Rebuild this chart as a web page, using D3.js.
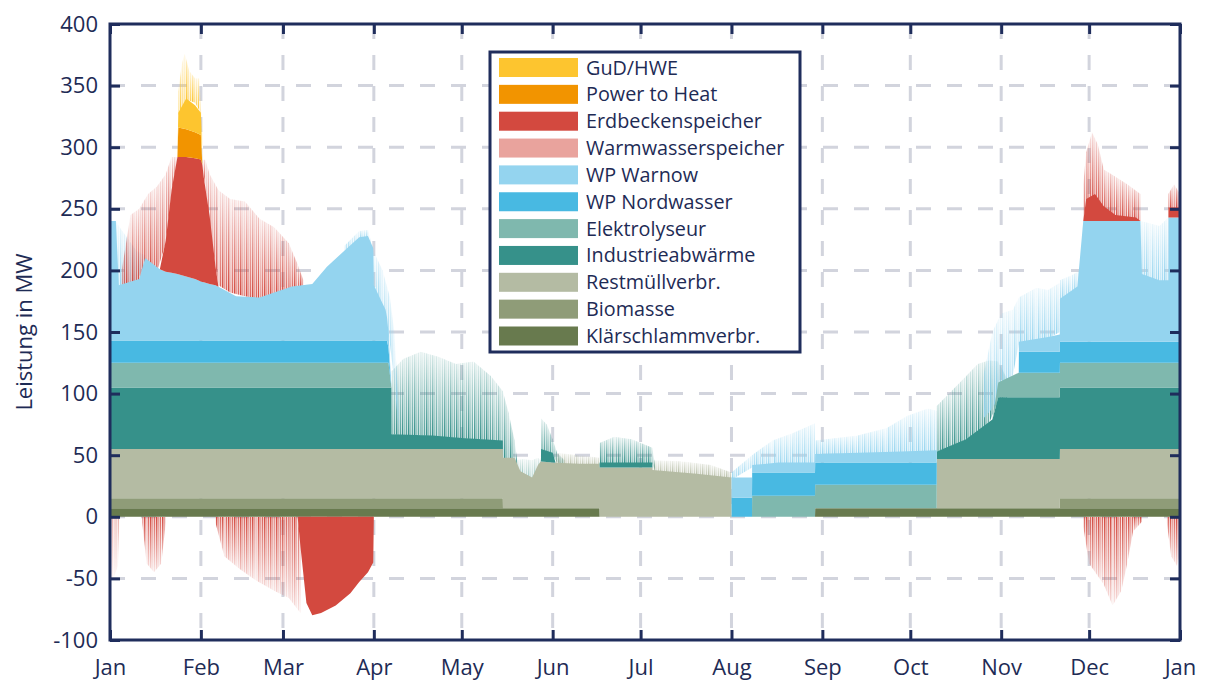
<!DOCTYPE html>
<html lang="de">
<head>
<meta charset="UTF-8">
<title>Wärmeerzeugung</title>
<script src="https://d3js.org/d3.v7.min.js"></script>
<style>
  body { margin: 0; background: #fff; }
  text { font-family: "Open Sans", sans-serif; fill: #1e2b55; }
</style>
</head>
<body>
<svg width="1220" height="682"></svg>
<script>
// stack order, bottom -> top
const keys = ["klaer", "bio", "rest", "indu", "elek", "nord", "warnow", "warm", "erdb", "pth", "gud"];
const labels = {
  gud: "GuD/HWE", pth: "Power to Heat", erdb: "Erdbeckenspeicher", warm: "Warmwasserspeicher",
  warnow: "WP Warnow", nord: "WP Nordwasser", elek: "Elektrolyseur", indu: "Industrieabwärme",
  rest: "Restmüllverbr.", bio: "Biomasse", klaer: "Klärschlammverbr."
};
const colors = {
  gud: "#fdc52f", pth: "#f29400", erdb: "#d3493f", warm: "#e9a39d", warnow: "#94d4ef",
  nord: "#48b9e2", elek: "#7fb8ae", indu: "#36918a", rest: "#b4bba3", bio: "#8f9c78", klaer: "#687a4e"
};

// base load per source, [day of year, MW]
const klaerschlamm = [[0,7],[167,7],[167.05,0],[240.5,0],[240.55,7],[365,7]];
const biomasse = [[0,8],[134,8],[134.05,0],[324,0],[324.05,8],[365,8]];
const restmuell = [[0,40],[134,40],[134.05,41],[138,41],[140,30],[144,25],[146,35],[147,38],[151,37],[160,36],[167,36],
  [167.05,40],[185,40],[185.05,38],[200,35],[212,32],[212.05,0],[282,0],[282.05,40],[365,40]];
const industrie = [[0,50],[96,50],[96.05,12],[110,11],[120,9],[134,7],[134.05,0],[147,0],[147.05,10],[151,8],[152,0],
  [167,0],[167.05,4],[185,4],[185.05,0],[282,0],[282.05,6],[292,16],[301,32],[303,50],[365,50]];
const elektrolyseur = [[0,20],[95,20],[96,0],[219,0],[219.05,17],[240.5,17],[240.55,19],[282,19],[282.05,0],[301,0],[303,12],[310,20],[365,20]];
const nordwasser = [[0,18],[94.5,18],[96,0],[212,0],[212.05,15.5],[219,15.5],[219.05,19],[240.5,19],[240.55,18],[282,18],[282.05,0],
  [310,0],[310.05,17],[365,17]];
const warnow = [[0,97],[2,97],[3,45],[10,50],[12,67],[17,58],[19,56],[21,55],[23,54],[26,52],[29,50],[31,48],[34,46],[36,45],
  [43,36],[51,35],[62,44],[69,46],[74,60],[85,84],[88,85],[89.8,75],[90,45],[94,25],[96,0],[212,0],[212.05,16.5],[219,16.5],
  [219.05,6],[228,8],[240.5,8],[240.55,7],[270,9],[282,10],[282.05,0],[310,0],[310.05,8],[320,12],[324,14],[324.05,35],[330,45],
  [332,98],[351.5,98],[352,55],[358,50],[361,50],[361.05,101],[365,101]];
const warmwasser = [[0,0],[365,0]];
const erdbecken = [[0,0],[17,0],[19,25],[21,67],[23,95],[26,97],[29,98],[31,99],[31.5,95],[32,85],[34,55],[36,15],[37,0],
  [332,0],[333,18],[336,22],[339,12],[343,5],[350,3],[351.5,0],[361,0],[361.05,8],[365,8]];
const powerToHeat = [[0,0],[23,0],[23.3,24],[31,20],[31.5,0],[365,0]];
const gud = [[0,0],[23,0],[23.3,12],[26,25],[29,22],[31,18],[31.5,0],[365,0]];
// storage discharge below zero
const erdbeckenNeg = [[64,0],[65,-25],[67,-70],[69,-80],[72,-78],[77,-72],[82,-62],[85,-53],[88,-45],[89.8,-37],[90,0]];

// short peaks (hourly spikes), [day, from MW, to MW]
const spikesIndustrie = [
  [[96,67,118],[100,66,128],[106,66,134],[112,65,130],[118,64,124],[124,63,126],[130,62,114],[134,47,102],[136,47,84],[138,46,62],[139,40,44]],
  [[147,52,80],[149,52,75],[151,50,63],[152.5,44,52],[155,43,46]],
  [[167,43,60],[172,43,65],[178,43,63],[185,43,56],[186,37,40]],
  [[282,53,90],[287,56,102],[292,63,114],[296,68,124],[300,77,127],[303,94,126],[306,96,112]]
];
const spikesRestmuell = [
  [[152,42,52],[160,41,50],[167,40,48]],
  [[185,37,46],[195,35,45],[205,33,42],[212,31,36]]
];
const spikesElektrolyseur = [
  [[138,40,46],[141,30,47],[144,24,46],[146,33,48],[147,37,46]]
];
const spikesWarnow = [
  [[2,185,240],[3,186,236],[6,188,226],[9,191,216],[12,205,212]],
  [[80,212,220],[85,225,232],[88,226,233],[90,188,215],[93,165,200],[95.5,140,178],[97,110,150],[98.5,70,90]],
  [[212,30,36],[219,40,50],[226,42,62],[233,42,68],[240.5,42,76]],
  [[240.5,50,62],[255,50,66],[265,51,72],[272,52,82],[279,52,88],[282,52,86]],
  [[298,80,115],[301,88,150],[304,100,165],[308,115,168],[310,140,178],[316,142,186],[320,145,184],[324,150,190]],
  [[324,176,192],[328,180,196],[331,185,200],[332,238,240]],
  [[351.5,195,240],[355,192,238],[358,190,236],[361,190,243]]
];
const spikesWarmwasser = [
  [[0,0,-50],[1.5,0,-48],[2.7,0,-40],[3.2,0,-3]]
];
const spikesErdbecken = [
  [[4,186,200],[7,189,245],[10,192,250],[13,205,262],[16,199,268],[19,222,278],[21,263,292],[23,290,292]],
  [[31.5,284,290],[32.5,270,290],[34,235,278],[37,188,265],[41,182,258],[46,179,256],[51,177,242],[56,179,235],[61,184,222],[64,186,205],[66,188,192]],
  [[332,238,270],[333,256,296],[335,260,312],[337,258,302],[339,250,282],[343,244,276],[347,242,270],[351.5,240,262]],
  [[361,250,262],[363,250,270],[365,250,262]],
  [[11,0,-5],[12.5,0,-38],[15,0,-45],[17.5,0,-38],[19,0,-5]],
  [[36,0,-5],[39,0,-32],[44,0,-42],[50,0,-52],[56,0,-60],[61,0,-66],[64,0,-75],[65,-20,-78]],
  [[332,0,-8],[334,0,-38],[339,0,-55],[342,0,-72],[345,0,-60],[347,0,-38],[349,0,-12],[352,0,-4]],
  [[360.5,0,-5],[362,0,-32],[364,0,-40],[365,0,-30]]
];
const spikesGud = [
  [[23.3,326,345],[24.5,332,368],[25.5,336,376],[27,338,362],[29,336,356],[30.5,330,356],[31.5,300,310]]
];

const yTicks = [-100, -50, 0, 50, 100, 150, 200, 250, 300, 350, 400];

const seriesData = {klaer: klaerschlamm, bio: biomasse, rest: restmuell, indu: industrie, elek: elektrolyseur,
  nord: nordwasser, warnow: warnow, warm: warmwasser, erdb: erdbecken, pth: powerToHeat, gud: gud};

const svg = d3.select("svg");
const plotLeft = 110, plotRight = 1180, plotTop = 24, plotBottom = 640;

const t0 = Date.UTC(2019, 0, 1);
const toDate = d => new Date(t0 + d * 864e5);
const x = d3.scaleUtc().domain([toDate(0), toDate(365)]).range([plotLeft, plotRight]);
const y = d3.scaleLinear().domain([-100, 400]).range([plotBottom, plotTop]);

// value of a breakpoint series on a given day (straight segments between breakpoints)
function valueAt(pts, d) {
  if (d <= pts[0][0]) return pts[0][1];
  for (let i = 1; i < pts.length; i++) {
    if (d <= pts[i][0]) {
      const [d0, v0] = pts[i - 1], [d1, v1] = pts[i];
      return d1 === d0 ? v1 : v0 + (v1 - v0) * (d - d0) / (d1 - d0);
    }
  }
  return pts[pts.length - 1][1];
}

const allDays = Array.from(new Set(keys.flatMap(k => seriesData[k].map(p => p[0])))).sort((a, b) => a - b);
const table = allDays.map(d => {
  const row = {day: d};
  keys.forEach(k => row[k] = valueAt(seriesData[k], d));
  return row;
});
const stacked = d3.stack().keys(keys)(table);

// defs: stripe textures + fades for the spiky parts
const defs = svg.append("defs");
Object.keys(colors).forEach(k => {
  const p = defs.append("pattern").attr("id", "st-" + k)
    .attr("patternUnits", "userSpaceOnUse").attr("width", 6).attr("height", 40);
  p.append("rect").attr("width", 6).attr("height", 40).attr("fill", colors[k]).attr("opacity", 0.22);
  [[0, 1.4, 1], [2.2, 0.9, 0.55], [3.9, 1.2, 0.8]].forEach(([x0, w, o]) =>
    p.append("rect").attr("x", x0).attr("width", w).attr("height", 40).attr("fill", colors[k]).attr("opacity", o));
});
function addFade(id, up) {
  const g = defs.append("linearGradient").attr("id", id + "-g").attr("x1", 0).attr("y1", 0).attr("x2", 0).attr("y2", 1);
  const stops = up ? [[0, "#2a2a2a"], [0.5, "#999999"], [1, "#ffffff"]] : [[0, "#ffffff"], [0.5, "#999999"], [1, "#2a2a2a"]];
  stops.forEach(([o, c]) => g.append("stop").attr("offset", o).attr("stop-color", c));
  defs.append("mask").attr("id", id).attr("maskContentUnits", "objectBoundingBox")
    .append("rect").attr("width", 1).attr("height", 1).attr("fill", `url(#${id}-g)`);
}
addFade("fadeUp", true);
addFade("fadeDown", false);

// grid
const gridColor = "#d2d4dd";
const grid = svg.append("g").attr("stroke", gridColor).attr("stroke-width", 3).attr("stroke-dasharray", "15,16");
grid.selectAll("line.h").data(yTicks.filter(v => v > -100 && v < 400)).join("line").attr("class", "h")
  .attr("x1", plotLeft).attr("x2", plotRight).attr("y1", d => y(d)).attr("y2", d => y(d));
grid.selectAll("line.v").data(x.ticks(d3.utcMonth.every(1)).slice(1, -1)).join("line").attr("class", "v")
  .attr("y1", plotTop).attr("y2", plotBottom).attr("x1", d => x(d)).attr("x2", d => x(d));

// spikes (behind the solid layers), one piece per pair of points so the fade stays local
const spikeArea = d3.area().x(p => x(toDate(p[0]))).y0(p => y(p[1])).y1(p => y(p[2]));
const spikeSets = [["indu", spikesIndustrie], ["rest", spikesRestmuell], ["elek", spikesElektrolyseur],
  ["warnow", spikesWarnow], ["warm", spikesWarmwasser], ["erdb", spikesErdbecken], ["gud", spikesGud]];
const spikes = svg.append("g");
spikeSets.forEach(([k, groups]) => {
  groups.forEach(gr => {
    const down = gr[1][2] < gr[1][1];
    d3.pairs(gr).forEach(pair => {
      spikes.append("path").datum(pair).attr("d", spikeArea)
        .attr("fill", `url(#st-${k})`).attr("mask", down ? "url(#fadeDown)" : "url(#fadeUp)");
    });
  });
});

// solid stacked layers
const area = d3.area().x(d => x(toDate(d.data.day))).y0(d => y(d[0])).y1(d => y(d[1]));
svg.append("g").selectAll("path").data(stacked).join("path")
  .attr("d", area).attr("fill", d => colors[d.key]);
svg.append("path").datum(erdbeckenNeg)
  .attr("d", d3.area().x(p => x(toDate(p[0]))).y0(y(0)).y1(p => y(p[1])))
  .attr("fill", colors.erdb);

// axes
const axisColor = "#1f2d5c";
const fontSize = 22;
const styleAxis = g => {
  g.select(".domain").remove();
  g.selectAll(".tick line").attr("stroke", axisColor).attr("stroke-width", 3);
  g.selectAll(".tick text").attr("fill", "#1e2b55").attr("font-size", fontSize).attr("font-family", "Open Sans, sans-serif");
};
const months = d3.utcMonth.every(1);
svg.append("g").attr("transform", `translate(0,${plotBottom})`)
  .call(d3.axisBottom(x).ticks(months).tickFormat(d3.utcFormat("%b")).tickSizeInner(-10).tickSizeOuter(0).tickPadding(19))
  .call(styleAxis);
svg.append("g").attr("transform", `translate(0,${plotTop})`)
  .call(d3.axisTop(x).ticks(months).tickFormat("").tickSizeInner(-10).tickSizeOuter(0))
  .call(styleAxis);
svg.append("g").attr("transform", `translate(${plotLeft},0)`)
  .call(d3.axisLeft(y).tickValues(yTicks).tickFormat(d => String(d)).tickSizeInner(-10).tickSizeOuter(0).tickPadding(12))
  .call(styleAxis);
svg.append("g").attr("transform", `translate(${plotRight},0)`)
  .call(d3.axisRight(y).tickValues(yTicks).tickFormat("").tickSizeInner(-10).tickSizeOuter(0))
  .call(styleAxis);
svg.append("rect").attr("x", plotLeft).attr("y", plotTop).attr("width", plotRight - plotLeft).attr("height", plotBottom - plotTop)
  .attr("fill", "none").attr("stroke", axisColor).attr("stroke-width", 3);

svg.append("text").attr("transform", `translate(24,${(plotTop + plotBottom) / 2}) rotate(-90)`)
  .attr("text-anchor", "middle").attr("dy", "0.35em").attr("font-size", fontSize).text("Leistung in MW");

// legend
const legendKeys = keys.slice().reverse();
const lg = svg.append("g").attr("transform", "translate(490,52)");
lg.append("rect").attr("width", 310).attr("height", 300).attr("fill", "#fff")
  .attr("stroke", axisColor).attr("stroke-width", 3);
const rows = lg.selectAll("g.row").data(legendKeys).join("g").attr("class", "row")
  .attr("transform", (d, i) => `translate(0,${15.5 + i * 26.85})`);
rows.append("rect").attr("x", 9).attr("y", -9.5).attr("width", 79).attr("height", 19).attr("fill", d => colors[d]);
rows.append("text").attr("x", 96).attr("y", 7).attr("font-size", 19.8).text(d => labels[d]);
</script>
</body>
</html>
